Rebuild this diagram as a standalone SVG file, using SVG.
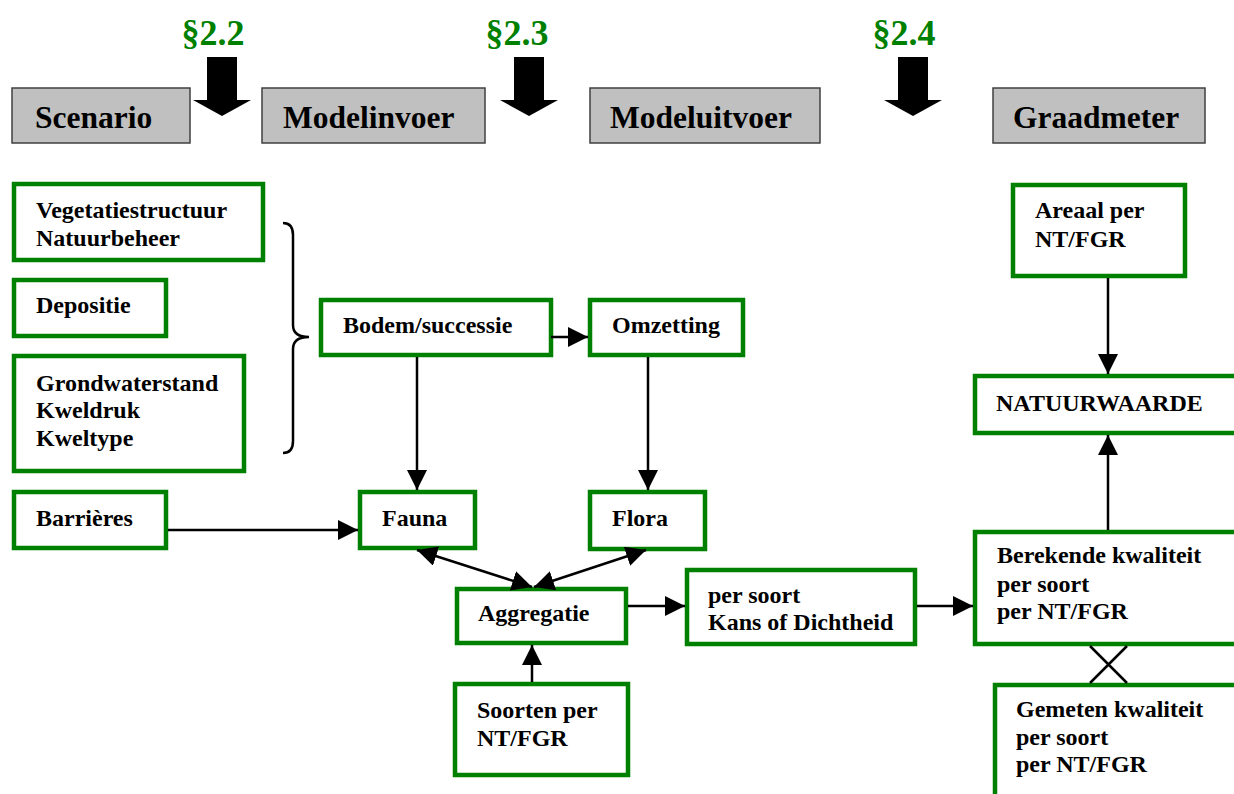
<svg xmlns="http://www.w3.org/2000/svg" width="1234" height="794" viewBox="0 0 1234 794">
  <defs>
    <style>
      .hdr { fill: #c0c0c0; stroke: #404040; stroke-width: 1.5; }
      .hdr-t { font-family: "Liberation Serif", "Times New Roman", serif; font-weight: bold; font-size: 31.5px; fill: #000; }
      .sec { font-family: "Liberation Serif", "Times New Roman", serif; font-weight: bold; font-size: 36px; fill: #008000; text-anchor: middle; }
      .box { fill: #fff; stroke: #008000; stroke-width: 4.5; }
      .lbl { font-family: "Liberation Serif", "Times New Roman", serif; font-weight: bold; font-size: 24px; fill: #000; }
      .conn { fill: none; stroke: #000; stroke-width: 2.5; }
      .big { fill: #000; }
    </style>
    <marker id="ah" markerUnits="userSpaceOnUse" markerWidth="20" markerHeight="20" refX="20" refY="10" orient="auto-start-reverse">
      <path d="M0,0 L20,10 L0,20 z" fill="#000"/>
    </marker>
  </defs>
  <rect width="1234" height="794" fill="#fff"/>

  <!-- section labels and block arrows -->
  <g id="sections">
    <text class="sec" x="213" y="45">§2.2</text>
    <text class="sec" x="517" y="45">§2.3</text>
    <text class="sec" x="904" y="45">§2.4</text>
    <polygon class="big" points="207,57 237,57 237,100 251,100 222,116 193,100 207,100"/>
    <polygon class="big" points="514,57 544,57 544,100 558,100 529,116 500,100 514,100"/>
    <polygon class="big" points="898,57 928,57 928,100 942,100 913,116 884,100 898,100"/>
  </g>

  <!-- column headers -->
  <g id="hdr-scenario"><rect class="hdr" x="12" y="88" width="178" height="55"/><text class="hdr-t" x="35" y="128">Scenario</text></g>
  <g id="hdr-modelinvoer"><rect class="hdr" x="262" y="88" width="223" height="55"/><text class="hdr-t" x="283" y="128">Modelinvoer</text></g>
  <g id="hdr-modeluitvoer"><rect class="hdr" x="590" y="88" width="230" height="55"/><text class="hdr-t" x="610" y="128">Modeluitvoer</text></g>
  <g id="hdr-graadmeter"><rect class="hdr" x="993" y="88" width="212" height="55"/><text class="hdr-t" x="1013" y="128">Graadmeter</text></g>

  <!-- scenario inputs -->
  <g id="vegetatie"><rect class="box" x="14" y="184" width="249" height="76"/>
    <text class="lbl" x="36" y="218">Vegetatiestructuur</text><text class="lbl" x="36" y="246">Natuurbeheer</text></g>
  <g id="depositie"><rect class="box" x="14" y="280" width="152" height="56"/>
    <text class="lbl" x="36" y="313">Depositie</text></g>
  <g id="grondwater"><rect class="box" x="14" y="356" width="230" height="115"/>
    <text class="lbl" x="36" y="391">Grondwaterstand</text><text class="lbl" x="36" y="418">Kweldruk</text><text class="lbl" x="36" y="446">Kweltype</text></g>
  <g id="barrieres"><rect class="box" x="14" y="492" width="152" height="56"/>
    <text class="lbl" x="36" y="526">Barrières</text></g>

  <!-- model boxes -->
  <g id="bodem"><rect class="box" x="321" y="300" width="230" height="55"/><text class="lbl" x="343" y="333">Bodem/successie</text></g>
  <g id="omzetting"><rect class="box" x="590" y="300" width="153" height="55"/><text class="lbl" x="612" y="333">Omzetting</text></g>
  <g id="fauna"><rect class="box" x="360" y="492" width="115" height="56"/><text class="lbl" x="382" y="526">Fauna</text></g>
  <g id="flora"><rect class="box" x="590" y="492" width="115" height="57"/><text class="lbl" x="612" y="526">Flora</text></g>
  <g id="aggregatie"><rect class="box" x="457" y="589" width="169" height="54"/><text class="lbl" x="478" y="621">Aggregatie</text></g>
  <g id="soorten"><rect class="box" x="455" y="684" width="173" height="91"/>
    <text class="lbl" x="477" y="718">Soorten per</text><text class="lbl" x="477" y="746">NT/FGR</text></g>
  <g id="per-soort"><rect class="box" x="687" y="570" width="228" height="74"/>
    <text class="lbl" x="708" y="603">per soort</text><text class="lbl" x="708" y="630">Kans of Dichtheid</text></g>

  <!-- indicator boxes -->
  <g id="areaal"><rect class="box" x="1013" y="185" width="172" height="91"/>
    <text class="lbl" x="1035" y="218">Areaal per</text><text class="lbl" x="1035" y="247">NT/FGR</text></g>
  <g id="natuurwaarde"><rect class="box" x="975" y="376" width="270" height="57"/>
    <text class="lbl" x="996" y="411">NATUURWAARDE</text></g>
  <g id="berekend"><rect class="box" x="975" y="532" width="270" height="112"/>
    <text class="lbl" x="997" y="563">Berekende kwaliteit</text><text class="lbl" x="997" y="592">per soort</text><text class="lbl" x="997" y="619">per NT/FGR</text></g>
  <g id="gemeten"><rect class="box" x="995" y="685" width="250" height="120"/>
    <text class="lbl" x="1016" y="717">Gemeten kwaliteit</text><text class="lbl" x="1016" y="745">per soort</text><text class="lbl" x="1016" y="772">per NT/FGR</text></g>

  <!-- connectors -->
  <g id="connectors">
    <path class="conn" d="M283,223 Q293,223 293,235 L293,325 Q293,337 309,337 Q293,337 293,349 L293,441 Q293,453 283,453"/>
    <path class="conn" d="M551,337 L588,337" marker-end="url(#ah)"/>
    <path class="conn" d="M417,357 L417,490" marker-end="url(#ah)"/>
    <path class="conn" d="M648,357 L648,490" marker-end="url(#ah)"/>
    <path class="conn" d="M168,530 L358,530" marker-end="url(#ah)"/>
    <path class="conn" d="M417,550 L532,587" marker-start="url(#ah)" marker-end="url(#ah)"/>
    <path class="conn" d="M646,550 L534,587" marker-start="url(#ah)" marker-end="url(#ah)"/>
    <path class="conn" d="M628,606 L685,606" marker-end="url(#ah)"/>
    <path class="conn" d="M917,606 L973,606" marker-end="url(#ah)"/>
    <path class="conn" d="M532,682 L532,645" marker-end="url(#ah)"/>
    <path class="conn" d="M1108,278 L1108,374" marker-end="url(#ah)"/>
    <path class="conn" d="M1108,530 L1108,435" marker-end="url(#ah)"/>
    <path class="conn" d="M1090,646 L1127,683 M1127,646 L1090,683"/>
  </g>
</svg>
